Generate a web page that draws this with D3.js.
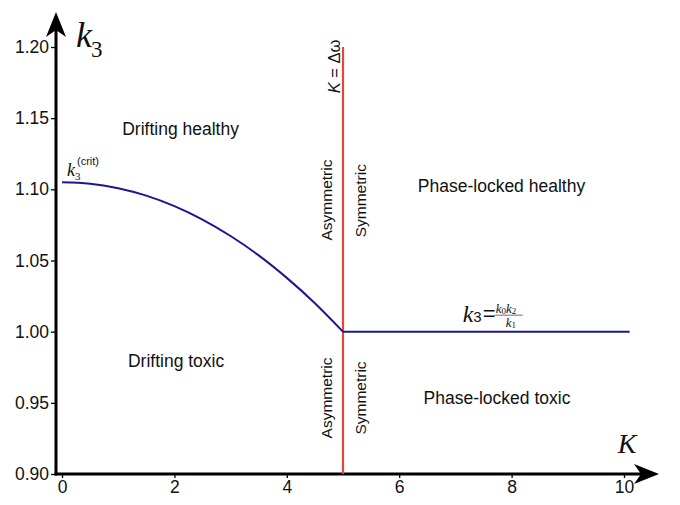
<!DOCTYPE html>
<html>
<head>
<meta charset="utf-8">
<script src="https://cdn.jsdelivr.net/npm/d3@7"></script>
<style>
  body { margin: 0; background: #fff; }
  svg { display: block; }
  .sans { font-family: "Liberation Sans", Arial, Helvetica, sans-serif; }
  .serif { font-family: "Liberation Serif", "Times New Roman", serif; }
</style>
</head>
<body>
<svg id="chart" width="680" height="505"></svg>
<script>
// values
const curveK = [0, 0.5, 1, 1.5, 2, 2.5, 3, 3.5, 4, 4.5, 5];
const curveK3 = [1.1050, 1.1040, 1.1008, 1.0956, 1.0882, 1.0788, 1.0672, 1.0536, 1.0378, 1.0200, 1.0000];
const plateauK = [5, 10.1];
const plateauK3 = [1.0, 1.0];
const criticalK = 5;
const xTicks = [0, 2, 4, 6, 8, 10];
const yTicks = [0.90, 0.95, 1.00, 1.05, 1.10, 1.15, 1.20];
const regionNames = ["Drifting healthy", "Drifting toxic", "Phase-locked healthy", "Phase-locked toxic"];
const regionK = [2.11, 2.03, 7.82, 7.74];
const regionK3 = [1.138, 0.975, 1.098, 0.949];
const sideNames = ["Asymmetric", "Symmetric", "Asymmetric", "Symmetric"];
const sideK3 = [1.0925, 1.092, 0.9534, 0.9534];
const sideOffset = [-16.5, 17, -16.5, 17];

const svg = d3.select("#chart");
const x = d3.scaleLinear().domain([0, 10]).range([62, 624]);
const y = d3.scaleLinear().domain([0.9, 1.2]).range([474, 47]);
const axisX = 56;
const blue = "#1d1890";
const red = "#e4473d";

// ticks
const yAxis = svg.append("g")
  .attr("class", "sans")
  .attr("transform", `translate(${axisX},0)`)
  .call(d3.axisLeft(y).tickValues(yTicks).tickSize(5).tickPadding(2).tickFormat(d3.format(".2f")));
const xAxis = svg.append("g")
  .attr("class", "sans")
  .attr("transform", `translate(0,${y(0.9)})`)
  .call(d3.axisBottom(x).tickValues(xTicks).tickSize(4).tickPadding(3));
[xAxis, yAxis].forEach((g) => {
  g.select(".domain").remove();
  g.selectAll(".tick line").attr("stroke", "#000").attr("stroke-width", 1.3);
  g.selectAll(".tick text").style("font-size", "17.5px").attr("fill", "#111");
});

// axis lines with arrows
svg.append("line")
  .attr("x1", axisX).attr("x2", axisX)
  .attr("y1", y(0.9) + 1.5).attr("y2", 30)
  .attr("stroke", "#000").attr("stroke-width", 3);
svg.append("line")
  .attr("x1", axisX - 1.5).attr("x2", 645)
  .attr("y1", y(0.9)).attr("y2", y(0.9))
  .attr("stroke", "#000").attr("stroke-width", 3);
svg.append("path")
  .attr("d", `M${axisX},12 L${axisX + 10},37 L${axisX},30 L${axisX - 10},37 Z`)
  .attr("fill", "#000");
const ay = y(0.9);
svg.append("path")
  .attr("d", `M659,${ay} L634,${ay - 10} L641,${ay} L634,${ay + 10} Z`)
  .attr("fill", "#000");

// red vertical line K = Δω
svg.append("line")
  .attr("x1", x(criticalK)).attr("x2", x(criticalK))
  .attr("y1", y(0.9)).attr("y2", y(1.2))
  .attr("stroke", red).attr("stroke-width", 2.2);

// blue curves
svg.append("path")
  .datum(curveK.map((k, i) => [k, curveK3[i]]))
  .attr("d", d3.line().x((d) => x(d[0])).y((d) => y(d[1])).curve(d3.curveNatural))
  .attr("fill", "none").attr("stroke", blue).attr("stroke-width", 2);
svg.append("path")
  .datum(plateauK.map((k, i) => [k, plateauK3[i]]))
  .attr("d", d3.line().x((d) => x(d[0])).y((d) => y(d[1])))
  .attr("fill", "none").attr("stroke", blue).attr("stroke-width", 2);

// region labels
svg.selectAll(".region")
  .data(regionNames)
  .join("text")
  .attr("class", "region sans")
  .attr("x", (d, i) => x(regionK[i]))
  .attr("y", (d, i) => y(regionK3[i]))
  .attr("text-anchor", "middle")
  .style("font-size", "17.5px")
  .attr("fill", "#111")
  .text((d) => d);

// rotated side labels
svg.selectAll(".side")
  .data(sideNames)
  .join("text")
  .attr("class", "side sans")
  .attr("transform", (d, i) => `translate(${x(criticalK) + sideOffset[i]},${y(sideK3[i])}) rotate(-90)`)
  .attr("text-anchor", "middle")
  .attr("dominant-baseline", "central")
  .style("font-size", "15.5px")
  .attr("fill", "#111")
  .text((d) => d);

const kLabel = svg.append("text")
  .attr("class", "sans")
  .attr("transform", `translate(${x(criticalK) - 9},${y(1.1863)}) rotate(-90)`)
  .attr("text-anchor", "middle")
  .attr("dominant-baseline", "central")
  .style("font-size", "16.5px")
  .attr("fill", "#111");
kLabel.append("tspan").style("font-style", "italic").text("K");
kLabel.append("tspan").text(" = Δω");

// axis titles
const k3Title = svg.append("text")
  .attr("class", "serif")
  .attr("x", 76).attr("y", 46.5)
  .attr("fill", "#111");
k3Title.append("tspan").style("font-style", "italic").style("font-size", "36px").text("k");
k3Title.append("tspan").attr("dx", -1).attr("dy", 10).style("font-size", "23px").text("3");

svg.append("text")
  .attr("class", "serif")
  .attr("x", 627).attr("y", 453)
  .attr("text-anchor", "middle")
  .style("font-style", "italic")
  .style("font-size", "28px")
  .attr("fill", "#111")
  .text("K");

// k3^(crit) label at the curve start
const cx = x(0) + 5, cy = y(curveK3[0]) - 6;
const crit = svg.append("text").attr("class", "serif").attr("x", cx).attr("y", cy).attr("fill", "#111");
crit.append("tspan").style("font-style", "italic").style("font-size", "18px").text("k");
crit.append("tspan").attr("dy", 4).style("font-size", "11px").text("3");
svg.append("text")
  .attr("class", "sans")
  .attr("x", cx + 10).attr("y", cy - 11)
  .style("font-size", "11px")
  .attr("fill", "#111")
  .text("(crit)");

// plateau formula k3 = k0 k2 / k1
const fx = x(7.13), fy = y(1.0) - 9.5;
const f = svg.append("text").attr("x", fx).attr("y", fy).attr("fill", "#111");
f.append("tspan").attr("class", "serif").style("font-style", "italic").style("font-size", "24px").text("k");
f.append("tspan").attr("class", "sans").style("font-size", "15px").text("3");
f.append("tspan").attr("class", "sans").attr("dx", 1).attr("dy", -1).style("font-size", "22px").text("=");
const num = svg.append("text").attr("x", fx + 33).attr("y", fy - 9).attr("fill", "#111").attr("class", "serif");
num.append("tspan").style("font-style", "italic").style("font-size", "13px").text("k");
num.append("tspan").attr("dy", 1).style("font-size", "9px").text("0");
num.append("tspan").attr("dy", -1).style("font-style", "italic").style("font-size", "13px").text("k");
num.append("tspan").attr("dy", 1).style("font-size", "9px").text("2");
svg.append("line")
  .attr("x1", fx + 32).attr("x2", fx + 60)
  .attr("y1", fy - 7).attr("y2", fy - 7)
  .attr("stroke", "#333").attr("stroke-width", 0.7);
const den = svg.append("text").attr("x", fx + 43).attr("y", fy + 5).attr("fill", "#111").attr("class", "serif");
den.append("tspan").style("font-style", "italic").style("font-size", "13px").text("k");
den.append("tspan").attr("dy", 1).style("font-size", "9px").text("1");
</script>
</body>
</html>
